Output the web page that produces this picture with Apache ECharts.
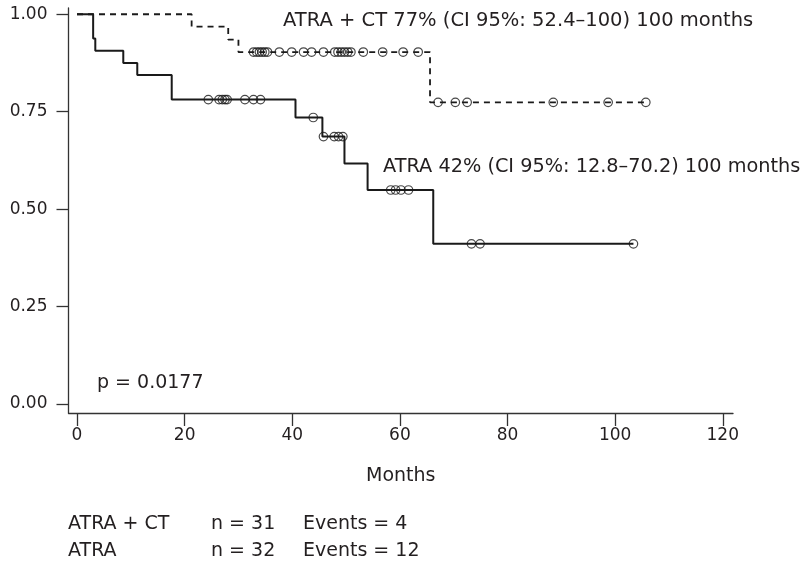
<!DOCTYPE html>
<html>
<head>
<meta charset="utf-8">
<script src="https://cdn.jsdelivr.net/npm/echarts@6/dist/echarts.min.js"></script>
<style>html,body{margin:0;padding:0;background:#fff}#c{width:806px;height:566px}</style>
</head>
<body>
<div id="c"></div>
<script>
// ---- data ----
const xTicks = [0, 20, 40, 60, 80, 100, 120];
const yTicks = [0, 0.25, 0.5, 0.75, 1.0];

// ATRA + CT (dashed) Kaplan-Meier steps
const ctStepTime = [0, 21.3, 28.1, 30.0, 65.6, 105.7];
const ctStepSurv = [1.0, 0.968, 0.935, 0.903, 0.774, 0.774];
// ATRA + CT censored observations
const ctCensorTime = [32.8, 33.4, 33.9, 34.4, 34.9, 35.4, 37.6, 39.9, 42.1, 43.6, 45.8,
  47.9, 48.5, 49.1, 49.7, 50.3, 50.9, 53.2, 56.8, 60.6, 63.4,
  67.1, 70.3, 72.5, 88.5, 98.7, 105.7];
const ctCensorSurv = [0.903, 0.903, 0.903, 0.903, 0.903, 0.903, 0.903, 0.903, 0.903, 0.903, 0.903,
  0.903, 0.903, 0.903, 0.903, 0.903, 0.903, 0.903, 0.903, 0.903, 0.903,
  0.774, 0.774, 0.774, 0.774, 0.774, 0.774];

// ATRA (solid) Kaplan-Meier steps
const atraStepTime = [0, 3.0, 3.4, 8.6, 11.2, 17.6, 40.6, 45.6, 49.7, 54.0, 66.2, 103.4];
const atraStepSurv = [1.0, 0.938, 0.906, 0.875, 0.844, 0.781, 0.735, 0.686, 0.617, 0.549, 0.411, 0.411];
// ATRA censored observations
const atraCensorTime = [24.4, 26.4, 27.0, 27.5, 27.9, 31.2, 32.8, 34.1,
  43.9, 45.8, 47.8, 48.6, 49.4, 58.3, 59.2, 60.2, 61.6, 73.3, 74.9, 103.4];
const atraCensorSurv = [0.781, 0.781, 0.781, 0.781, 0.781, 0.781, 0.781, 0.781,
  0.735, 0.686, 0.686, 0.686, 0.686, 0.549, 0.549, 0.549, 0.549, 0.411, 0.411, 0.411];

const ctLabel = 'ATRA + CT 77% (CI 95%: 52.4–100) 100 months';
const atraLabel = 'ATRA 42% (CI 95%: 12.8–70.2) 100 months';
const pLabel = 'p = 0.0177';
const tableRows = [
  ['ATRA + CT', 'n = 31', 'Events = 4'],
  ['ATRA', 'n = 32', 'Events = 12']
];

// ---- chart ----
const FONT = 'DejaVu Sans';
const INK = '#231f20';
const zip = (a, b) => a.map((v, i) => [v, b[i]]);

const chart = echarts.init(document.getElementById('c'), null, {renderer: 'canvas'});

const graphics = [
  {type: 'text', x: 283, y: 20.5, style: {text: ctLabel, fontFamily: FONT, fontSize: 19.5, fill: INK, verticalAlign: 'middle'}},
  {type: 'text', x: 383, y: 166.5, style: {text: atraLabel, fontFamily: FONT, fontSize: 19.3, fill: INK, verticalAlign: 'middle'}},
  {type: 'text', x: 97, y: 383, style: {text: pLabel, fontFamily: FONT, fontSize: 19, fill: INK, verticalAlign: 'middle'}}
];
const colX = [68, 211, 303];
const rowY = [524.5, 551];
tableRows.forEach((row, r) => row.forEach((cell, c) => {
  graphics.push({type: 'text', x: colX[c], y: rowY[r], style: {text: cell, fontFamily: FONT, fontSize: 19, fill: INK, verticalAlign: 'middle'}});
}));

// axis frame extends a little beyond the tick range (R-style offset axes)
const xMin = -1.58, xMax = 121.9;
const yMin = -0.0231, yMax = 1.016;

chart.setOption({
  animation: false,
  backgroundColor: '#fff',
  textStyle: {fontFamily: FONT, color: INK},
  grid: [{left: 68.5, right: 73, top: 8, bottom: 153}],
  xAxis: {
    type: 'value', min: xMin, max: xMax,
    axisLine: {show: true, onZero: false, lineStyle: {color: '#333', width: 1.3}},
    axisTick: {show: true, length: 13, customValues: xTicks, lineStyle: {color: '#333', width: 1.3}},
    axisLabel: {fontFamily: FONT, fontSize: 17, color: INK, margin: 14, customValues: xTicks},
    splitLine: {show: false},
    name: 'Months', nameLocation: 'middle', nameGap: 54,
    nameTextStyle: {fontFamily: FONT, fontSize: 19, color: INK}
  },
  yAxis: {
    type: 'value', min: yMin, max: yMax,
    axisLine: {show: true, onZero: false, lineStyle: {color: '#333', width: 1.3}},
    axisTick: {show: true, length: 12, customValues: yTicks, lineStyle: {color: '#333', width: 1.3}},
    axisLabel: {fontFamily: FONT, fontSize: 17, color: INK, margin: 21, customValues: yTicks, formatter: v => v.toFixed(2)},
    splitLine: {show: false}
  },
  series: [
    {
      name: 'ATRA + CT', type: 'line', step: 'end',
      data: zip(ctStepTime, ctStepSurv), showSymbol: false, symbol: 'none',
      lineStyle: {color: '#1a1a1a', width: 1.8, type: [6, 5]}
    },
    {
      name: 'ATRA', type: 'line', step: 'end',
      data: zip(atraStepTime, atraStepSurv), showSymbol: false, symbol: 'none',
      lineStyle: {color: '#1a1a1a', width: 2}
    },
    {
      name: 'ATRA + CT censored', type: 'scatter',
      data: zip(ctCensorTime, ctCensorSurv), symbol: 'circle', symbolSize: 8.5,
      itemStyle: {color: 'rgba(0,0,0,0)', borderColor: '#1a1a1a', borderWidth: 1.2}
    },
    {
      name: 'ATRA censored', type: 'scatter',
      data: zip(atraCensorTime, atraCensorSurv), symbol: 'circle', symbolSize: 8.5,
      itemStyle: {color: 'rgba(0,0,0,0)', borderColor: '#1a1a1a', borderWidth: 1.2}
    }
  ],
  graphic: graphics
});
</script>
</body>
</html>
